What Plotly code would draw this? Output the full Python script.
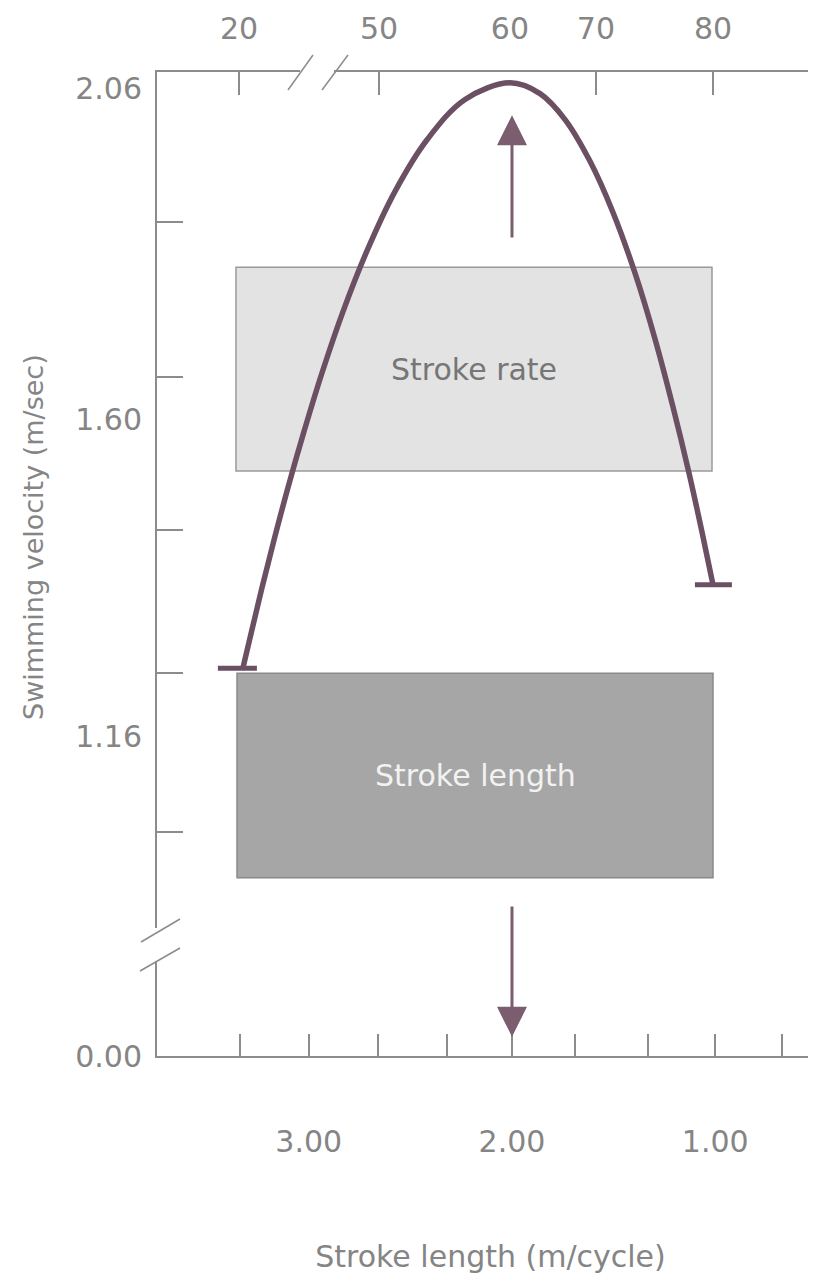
import plotly.graph_objects as go

# ---------------- data ----------------
# curve: swimming velocity vs stroke length
stroke_length = [3.324, 3.279, 3.230, 3.171, 3.102, 3.023, 2.935, 2.832, 2.713, 2.576, 2.418,
                 2.231, 2.010, 1.862, 1.739, 1.616, 1.503, 1.395, 1.296, 1.208, 1.129, 1.065, 1.011]
velocity = [1.255, 1.309, 1.367, 1.433, 1.506, 1.584, 1.665, 1.750, 1.835, 1.917, 1.989,
            2.045, 2.068, 2.053, 2.017, 1.959, 1.888, 1.804, 1.712, 1.618, 1.526, 1.444, 1.371]

# end caps of the curve
cap_left_sl = [3.447, 3.255]
cap_left_v = [1.255, 1.255]
cap_right_sl = [1.100, 0.918]
cap_right_v = [1.371, 1.371]

# boxes
box_labels = ["Stroke rate", "Stroke length"]
box_sl_left = [3.358, 3.353]
box_sl_right = [1.016, 1.011]
box_v_low = [1.529, 0.964]
box_v_high = [1.812, 1.248]

# arrows
arrow_sl = [2.00, 2.00]
arrow_tail_v = [1.851, 0.926]
arrow_tip_v = [2.023, 0.743]

# axes
x_range = [3.7466, 0.4649]
y_range = [0.7164, 2.0831]
bottom_tick_vals = [3.34, 3.00, 2.66, 2.32, 2.00, 1.69, 1.33, 1.00, 0.67]
bottom_tick_text = ["", "3.00", "", "", "2.00", "", "", "1.00", ""]
top_tick_vals = [3.343, 2.654, 1.587, 1.011]
top_label_vals = [3.343, 2.654, 2.010, 1.587, 1.011]
top_label_text = ["20", "50", "60", "70", "80"]
left_tick_vals = [1.875, 1.659, 1.447, 1.248, 1.028]
left_label_vals = [2.06, 1.60, 1.16, 0.7164]
left_label_text = ["2.06", "1.60", "1.16", "0.00"]

# ---------------- styling ----------------
OFF = 8                      # page body margin of the html
W, H = 816, 1274 - OFF
PL, PR, PT, PB = 157 - OFF, 824 - OFF, 72 - OFF, 1056 - OFF
FONT = "DejaVu Sans"
TXT = "#858585"
AX = "#8c8c8c"
CURVE = "#6b4f63"
ARROW = "#7a5e70"


def px(xp):
    return (xp - OFF - PL) / (PR - PL)


def py(yp):
    return (PB - (yp - OFF)) / (PB - PT)


fig = go.Figure()

fig.add_trace(go.Scatter(x=stroke_length, y=velocity, mode="lines",
                         line=dict(color=CURVE, width=5.5, shape="spline", smoothing=1.0),
                         hoverinfo="skip", showlegend=False))
for cx, cy in [(cap_left_sl, cap_left_v), (cap_right_sl, cap_right_v)]:
    fig.add_trace(go.Scatter(x=cx, y=cy, mode="lines", line=dict(color=CURVE, width=5),
                             hoverinfo="skip", showlegend=False))

# empty traces so that the overlay axes are drawn
fig.add_trace(go.Scatter(x=[], y=[], xaxis="x2", yaxis="y", showlegend=False))
fig.add_trace(go.Scatter(x=[], y=[], xaxis="x3", yaxis="y", showlegend=False))
fig.add_trace(go.Scatter(x=[], y=[], xaxis="x", yaxis="y2", showlegend=False))

box_fill = ["#e3e3e3", "#a6a6a6"]
box_line = ["#9a9a9a", "#8a8a8a"]
box_text = ["#767676", "#f2f2f2"]
for i in range(2):
    fig.add_shape(type="rect", xref="x", yref="y",
                  x0=box_sl_left[i], x1=box_sl_right[i], y0=box_v_low[i], y1=box_v_high[i],
                  fillcolor=box_fill[i], line=dict(color=box_line[i], width=1.5), layer="below")
    fig.add_annotation(x=(box_sl_left[i] + box_sl_right[i]) / 2,
                       y=(box_v_low[i] + box_v_high[i]) / 2,
                       xref="x", yref="y", text=box_labels[i], showarrow=False,
                       font=dict(family=FONT, size=30, color=box_text[i]))

for i in range(2):
    fig.add_annotation(x=arrow_sl[i], y=arrow_tip_v[i], ax=arrow_sl[i], ay=arrow_tail_v[i],
                       xref="x", yref="y", axref="x", ayref="y", text="",
                       showarrow=True, arrowhead=2, arrowwidth=3, arrowsize=2,
                       arrowcolor=ARROW, standoff=0, startstandoff=0)

# axis break marks
fig.add_shape(type="rect", xref="paper", yref="paper", x0=px(300), x1=px(334),
              y0=py(76), y1=py(68), fillcolor="white", line=dict(width=0), layer="above")
fig.add_shape(type="rect", xref="paper", yref="paper", x0=px(153), x1=px(162),
              y0=py(961), y1=py(928), fillcolor="white", line=dict(width=0), layer="above")
for (x0, y0, x1, y1) in [(288, 90, 313, 55), (322, 90, 348, 55),
                         (141, 942, 180, 919), (140, 971, 180, 948)]:
    fig.add_shape(type="line", xref="paper", yref="paper", x0=px(x0), y0=py(y0),
                  x1=px(x1), y1=py(y1), line=dict(color=AX, width=1.5), layer="above")

fig.add_annotation(xref="paper", yref="paper", x=px(33), y=py(537),
                   xanchor="center", yanchor="middle",
                   text="Swimming velocity (m/sec)", textangle=-90, showarrow=False,
                   font=dict(family=FONT, size=27, color=TXT))

axis_common = dict(showgrid=False, zeroline=False, linecolor=AX, linewidth=2,
                   tickcolor=AX, tickwidth=1.5, fixedrange=True,
                   tickfont=dict(family=FONT, size=30, color=TXT))

fig.update_layout(
    width=W, height=H, autosize=False,
    margin=dict(l=PL, r=W - PR, t=PT, b=H - PB, pad=0),
    paper_bgcolor="white", plot_bgcolor="white",
    font=dict(family=FONT, color=TXT),
    showlegend=False,
    xaxis=dict(axis_common, range=x_range, showline=True, ticks="inside", ticklen=22,
               tickmode="array", tickvals=bottom_tick_vals, ticktext=bottom_tick_text,
               ticklabelstandoff=58,
               title=dict(text="Stroke length (m/cycle)", standoff=88,
                          font=dict(family=FONT, size=30, color=TXT))),
    xaxis2=dict(axis_common, range=x_range, overlaying="x", side="top", anchor="y",
                showline=True, ticks="inside", ticklen=23, tickmode="array",
                tickvals=top_tick_vals, showticklabels=False),
    xaxis3=dict(axis_common, range=x_range, overlaying="x", side="top", anchor="y",
                showline=False, ticks="", tickmode="array",
                tickvals=top_label_vals, ticktext=top_label_text, ticklabelstandoff=26),
    yaxis=dict(axis_common, range=y_range, showline=True, ticks="inside", ticklen=26,
               tickmode="array", tickvals=left_tick_vals, showticklabels=False),
    yaxis2=dict(axis_common, range=y_range, overlaying="y", side="left", anchor="x",
                showline=False, ticks="", tickmode="array",
                tickvals=left_label_vals, ticktext=left_label_text, ticklabelstandoff=14),
)

fig.write_html("out.html")
